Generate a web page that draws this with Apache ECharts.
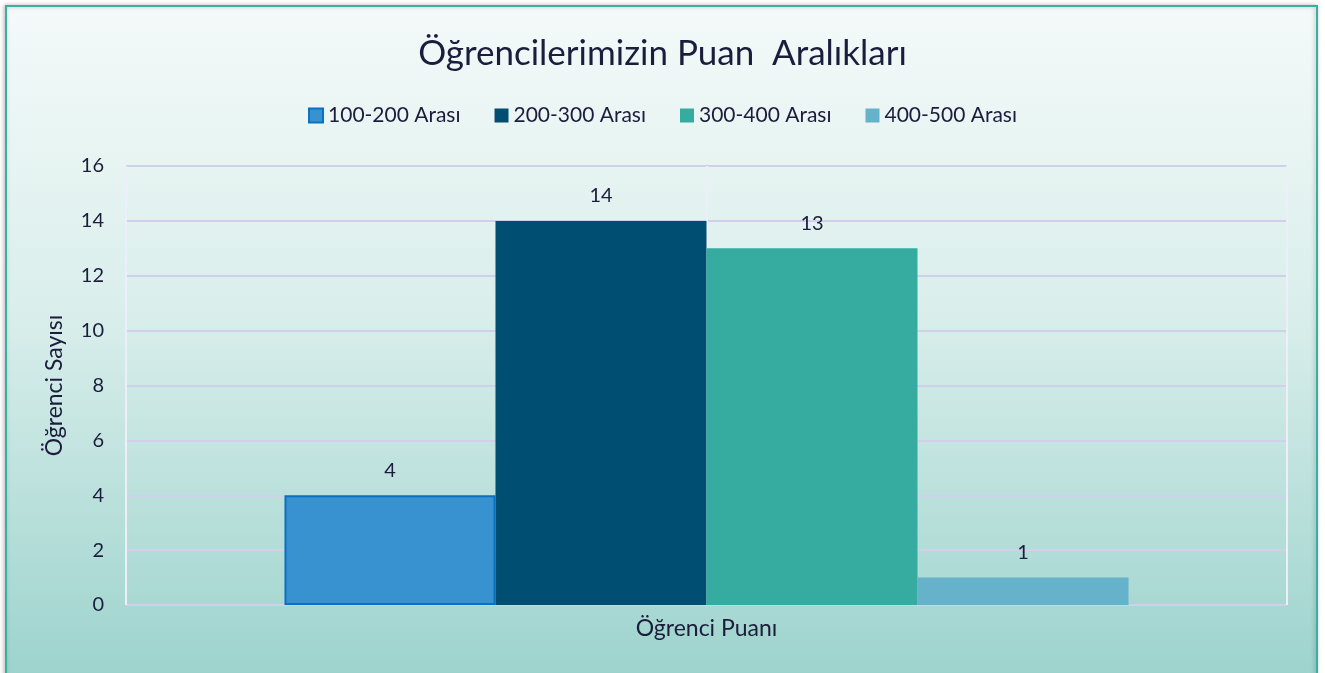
<!DOCTYPE html>
<html>
<head>
<meta charset="utf-8">
<script src="https://cdn.jsdelivr.net/npm/echarts@6/dist/echarts.min.js"></script>
<style>
  html, body { margin: 0; padding: 0; background: #ffffff; }
  #chart { width: 1325px; height: 673px; }
</style>
</head>
<body>
<div id="chart"></div>
<script>
const seriesNames = ['100-200 Arası', '200-300 Arası', '300-400 Arası', '400-500 Arası']
const studentCounts = [4, 14, 13, 1]
const categories = ['']
const yTicks = { min: 0, max: 16, interval: 2 }

const barColors = ['#3892d0', '#004f73', '#36aba0', '#67b2cb']
const textColor = '#1c1c3c'
const font = 'Lato, "Open Sans", sans-serif'

const myChart = echarts.init(document.getElementById('chart'))

const option = {
	backgroundColor: '#ffffff',
	textStyle: { fontFamily: font, color: textColor },
	graphic: [
		{
			type: 'rect',
			z: -10,
			silent: true,
			shape: { x: 6, y: 6, width: 1311, height: 690 },
			style: {
				fill: {
					type: 'linear', x: 0, y: 0, x2: 0, y2: 1,
					colorStops: [
						{ offset: 0, color: '#f4faf9' },
						{ offset: 0.45, color: '#d9eeeb' },
						{ offset: 0.97, color: '#9dd3cd' },
						{ offset: 1, color: '#9dd3cd' },
					],
				},
				stroke: '#3aafa1',
				lineWidth: 2,
				shadowBlur: 4,
				shadowColor: 'rgba(0,0,0,0.25)',
				shadowOffsetX: -1,
			},
		},
	],
	title: {
		text: 'Öğrencilerimizin Puan  Aralıkları',
		left: 'center',
		top: 31,
		textStyle: { fontSize: 35, fontWeight: 'normal', color: textColor, fontFamily: font },
	},
	legend: {
		top: 100,
		left: 'center',
		itemWidth: 14,
		itemHeight: 14,
		itemGap: 34,
		icon: 'rect',
		textStyle: { fontSize: 21, color: textColor, fontFamily: font },
		data: seriesNames,
	},
	grid: { left: 126, right: 38, top: 166, bottom: 68 },
	xAxis: [
		{
			type: 'category',
			data: categories,
			name: 'Öğrenci Puanı',
			nameLocation: 'middle',
			nameGap: 12,
			nameTextStyle: { fontSize: 23, color: textColor, fontFamily: font },
			axisLine: { show: false },
			axisTick: { show: false },
			axisLabel: { show: false },
			splitLine: { show: false },
		},
		{
			type: 'category',
			data: ['', ''],
			position: 'bottom',
			axisLine: { show: false },
			axisTick: { show: false },
			axisLabel: { show: false },
			splitLine: { show: true, lineStyle: { color: '#eeeef8', width: 2 } },
		},
	],
	yAxis: {
		type: 'value',
		min: yTicks.min,
		max: yTicks.max,
		interval: yTicks.interval,
		name: 'Öğrenci Sayısı',
		nameLocation: 'middle',
		nameGap: 60,
		nameTextStyle: { fontSize: 23, color: textColor, fontFamily: font },
		axisLine: { show: false },
		axisTick: { show: false },
		axisLabel: { fontSize: 20, color: textColor, margin: 22, fontFamily: font },
		splitLine: { show: true, lineStyle: { color: '#d2cfea', width: 2 } },
	},
	series: seriesNames.map((name, i) => ({
		name: name,
		type: 'bar',
		xAxisIndex: 0,
		data: [studentCounts[i]],
		barGap: '0%',
		barCategoryGap: '27.3%',
		itemStyle: i === 0
			? { color: barColors[i], borderColor: '#0a70c2', borderWidth: 2 }
			: { color: barColors[i] },
		label: {
			show: true,
			position: 'top',
			distance: 15,
			fontSize: 20,
			color: textColor,
			fontFamily: font,
		},
	})),
}

myChart.setOption(option)
</script>
</body>
</html>
